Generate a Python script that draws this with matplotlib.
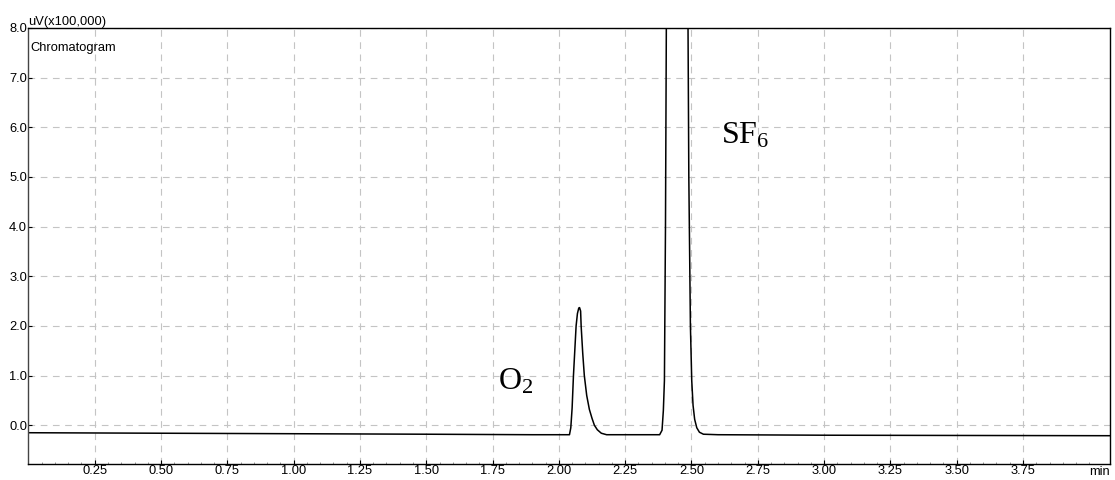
import matplotlib
matplotlib.use("Agg")
import matplotlib.pyplot as plt
import numpy as np

# retention time (min) and detector signal (uV x 100,000)
time_min = [0.00, 0.50, 1.00, 1.50, 1.90, 2.040, 2.045, 2.050, 2.055, 2.060,
            2.065, 2.070, 2.075, 2.078, 2.082, 2.084, 2.090, 2.096, 2.105,
            2.115, 2.125, 2.134, 2.145, 2.160, 2.180, 2.250, 2.380, 2.389,
            2.394, 2.398, 2.402, 2.406, 2.420, 2.450, 2.475, 2.486, 2.490,
            2.496, 2.501, 2.506, 2.512, 2.520, 2.530, 2.545, 2.600, 3.00,
            3.50, 4.08]
signal = [-0.15, -0.16, -0.17, -0.18, -0.19, -0.19, -0.05, 0.35, 1.0, 1.5,
          2.0, 2.25, 2.36, 2.37, 2.30, 2.0, 1.45, 1.0, 0.6,
          0.32, 0.14, 0.0, -0.09, -0.16, -0.19, -0.19, -0.19, -0.1,
          0.3, 0.9, 4.0, 9.0, 14.0, 16.0, 14.0, 9.0, 5.0,
          2.0, 0.9, 0.4, 0.12, -0.05, -0.14, -0.18, -0.19, -0.20,
          -0.205, -0.21]

x_ticks = [0.25, 0.50, 0.75, 1.00, 1.25, 1.50, 1.75, 2.00, 2.25, 2.50,
           2.75, 3.00, 3.25, 3.50, 3.75]
y_ticks = [0.0, 1.0, 2.0, 3.0, 4.0, 5.0, 6.0, 7.0, 8.0]

plt.rcParams['font.family'] = ['Liberation Sans', 'DejaVu Sans']
plt.rcParams['mathtext.fontset'] = 'custom'
plt.rcParams['mathtext.rm'] = 'Liberation Serif'
plt.rcParams['mathtext.it'] = 'Liberation Serif:italic'

fig = plt.figure(figsize=(11.15, 4.8), dpi=100)
ax = fig.add_axes([0.0255, 0.0333, 0.970, 0.9084])

ax.plot(time_min, signal, color='black', lw=1.1)

fs = 9.3
ax.set_xlim(0, 4.078)
ax.set_ylim(-0.78, 8.0)
ax.set_xticks(x_ticks)
ax.set_xticklabels(['%.2f' % t for t in x_ticks], fontsize=fs)
ax.set_xticks(np.arange(0.05, 4.05, 0.05), minor=True)
ax.set_yticks(y_ticks)
ax.set_yticklabels(['%.1f' % v for v in y_ticks], fontsize=fs)

ax.tick_params(axis='both', which='major', direction='in', length=3, width=0.8, pad=1)
ax.tick_params(axis='x', which='minor', direction='in', length=1.5, width=0.6, color='#888888')
ax.grid(True, which='major', color='#c4c4c4', linestyle=(0, (6, 5)), lw=0.8)
ax.set_axisbelow(True)

for side in ['top', 'right', 'bottom', 'left']:
    ax.spines[side].set_color('black')
    ax.spines[side].set_linewidth(1.0)
ax.spines['left'].set_color('#444444')

# unit labels and title
ax.text(0.0, 1.0, 'uV(x100,000)', transform=ax.transAxes, fontsize=fs,
        ha='left', va='bottom')
ax.text(0.002, 0.955, 'Chromatogram', transform=ax.transAxes, fontsize=fs,
        ha='left', va='center')
ax.text(4.04, -0.005, 'min', transform=ax.get_xaxis_transform(), fontsize=fs,
        ha='center', va='top')

# peak labels
ax.text(1.771, 0.89, r'$\mathrm{O_2}$', fontsize=23, ha='left', va='center')
ax.text(2.612, 5.84, r'$\mathrm{SF_6}$', fontsize=23, ha='left', va='center')

fig.savefig('out.png', dpi=100)
